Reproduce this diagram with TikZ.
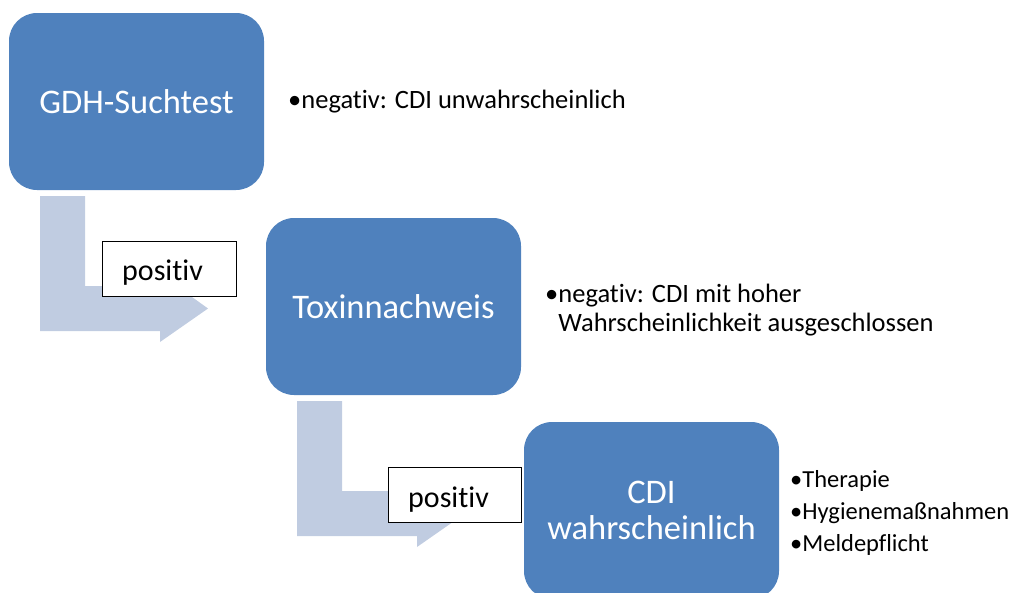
\documentclass[tikz,border=0pt]{standalone}
\usepackage{fontspec}
\setmainfont[Ligatures=NoCommon]{Carlito}
\definecolor{boxblue}{HTML}{4F81BD}
\definecolor{arrowblue}{HTML}{C0CCE1}
\begin{document}
\begin{tikzpicture}[x=1pt,y=-1pt,
  stepbox/.style={fill=boxblue,rounded corners=28pt,minimum width=255pt,minimum height=177pt,
    inner sep=0pt,text=white,align=center,font=\fontsize{34.5}{36}\selectfont},
  labelbox/.style={draw=black,line width=0.9pt,fill=white,inner sep=0pt,anchor=north west},
  labeltext/.style={anchor=base west,font=\fontsize{30}{34}\selectfont,inner sep=0pt},
  bullettext/.style={anchor=west,inner sep=0pt,align=left}]
\useasboundingbox (0,0) rectangle (1011,592);
\clip (0,0) rectangle (1011,592);
% arrows
\fill[arrowblue] (40,196) -- (85,196) -- (85,286) -- (160,286) -- (160,274) -- (208,308.5)
  -- (160,342) -- (160,331) -- (40,331) -- cycle;
\fill[arrowblue] (297,401) -- (342,401) -- (342,491) -- (417,491) -- (417,479) -- (465,513.5)
  -- (417,547) -- (417,536) -- (297,536) -- cycle;
% boxes
\node[stepbox] (gdh) at (136.5,101.5) {GDH-Suchtest};
\node[stepbox] (tox) at (393.5,306.5) {Toxinnachweis};
\node[stepbox] (cdi) at (651.5,510.5) {CDI\\wahrscheinlich};
% labels
\node[labelbox,minimum width=134pt,minimum height=55pt] (pos1) at (102,241) {};
\node[labeltext] (pos1t) at (122,280) {positiv};
\node[labelbox,minimum width=133pt,minimum height=55pt] (pos2) at (388,467) {};
\node[labeltext] (pos2t) at (408,507) {positiv};
% bullet texts
\node[bullettext,font=\fontsize{26.5}{30}\selectfont] (t1) at (288,102) {•negativ: CDI unwahrscheinlich};
\node[bullettext,font=\fontsize{26.5}{29}\selectfont] (t2) at (545,311)
  {\begin{tabular}{@{}l@{}l@{}}•&negativ: CDI mit hoher\\ &Wahrscheinlichkeit ausgeschlossen\end{tabular}};
\node[bullettext,font=\fontsize{24.5}{32}\selectfont] (t3) at (790,513)
  {\begin{tabular}{@{}l@{}l@{}}•&Therapie\\ •&Hygienemaßnahmen\\ •&Meldepflicht\end{tabular}};
\end{tikzpicture}
\end{document}
